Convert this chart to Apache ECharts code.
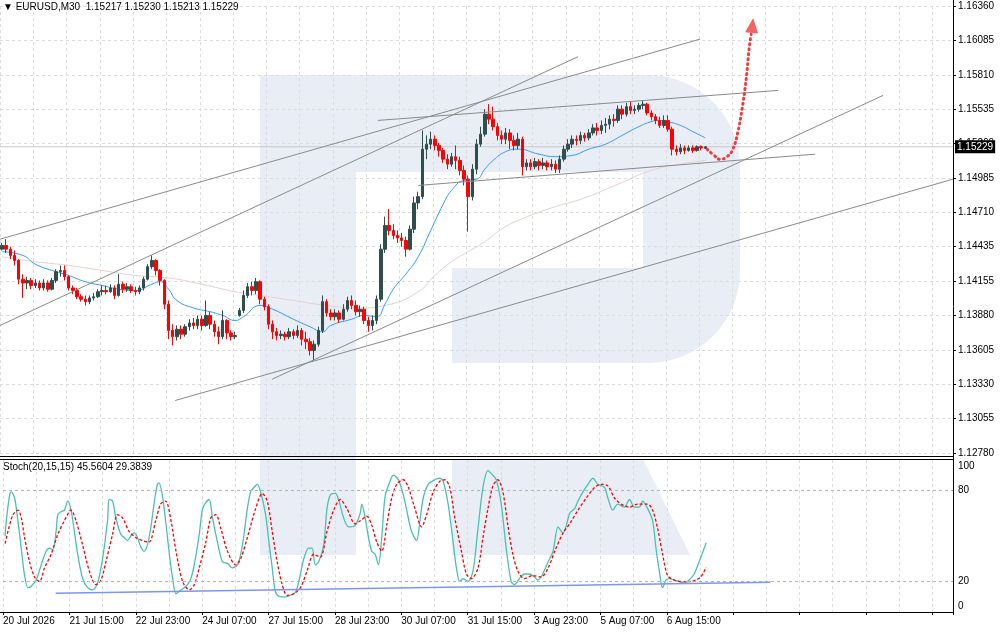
<!DOCTYPE html>
<html><head><meta charset="utf-8">
<script src="https://cdn.jsdelivr.net/npm/echarts@6/dist/echarts.min.js"></script>
<style>html,body{margin:0;padding:0;background:#fff}#c{width:1000px;height:632px}</style>
</head><body><div id="c"></div><script>
const headerText = '\u25BC EURUSD,M30  1.15217 1.15230 1.15213 1.15229';
const stochTitle = 'Stoch(20,15,15) 45.5604 29.3839';
const priceLabels = ['1.12780','1.13055','1.13330','1.13605','1.13880','1.14155','1.14435','1.14710','1.14985','1.15260','1.15535','1.15810','1.16085','1.16360'];
const timeLabels = ['20 Jul 2026','21 Jul 15:00','22 Jul 23:00','24 Jul 07:00','27 Jul 15:00','28 Jul 23:00','30 Jul 07:00','31 Jul 15:00','3 Aug 23:00','5 Aug 07:00','6 Aug 15:00'];
const stochLevels = [20, 80];
const lastPrice = 1.15229;
const totalSlots = 229;

// [open, close, low, high]
const candles = [
[1.1441,1.1444,1.1440,1.1446],[1.1444,1.1441,1.1438,1.1449],[1.1441,1.1436,1.1433,1.1443],[1.1436,1.1432,1.1428,1.1440],
[1.1432,1.1417,1.1413,1.1433],[1.1417,1.1414,1.1402,1.1421],[1.1414,1.1416,1.1409,1.1419],[1.1416,1.1412,1.1409,1.1418],
[1.1412,1.1414,1.1410,1.1417],[1.1414,1.1410,1.1408,1.1416],[1.1410,1.1414,1.1408,1.1417],[1.1414,1.1409,1.1407,1.1416],
[1.1409,1.1416,1.1408,1.1418],[1.1416,1.1423,1.1414,1.1425],[1.1423,1.1424,1.1419,1.1428],[1.1424,1.1419,1.1416,1.1428],
[1.1419,1.1410,1.1408,1.1420],[1.1410,1.1408,1.1405,1.1412],[1.1408,1.1403,1.1401,1.1410],[1.1403,1.1401,1.1399,1.1405],
[1.1401,1.1399,1.1396,1.1404],[1.1399,1.1402,1.1397,1.1404],[1.1402,1.1403,1.1400,1.1406],[1.1403,1.1407,1.1402,1.1409],
[1.1407,1.1408,1.1404,1.1412],[1.1408,1.1407,1.1405,1.1412],[1.1407,1.1410,1.1406,1.1413],[1.1410,1.1404,1.1401,1.1412],
[1.1404,1.1413,1.1403,1.1421],[1.1413,1.1409,1.1406,1.1415],[1.1409,1.1411,1.1407,1.1414],[1.1411,1.1408,1.1406,1.1413],
[1.1408,1.1407,1.1404,1.1411],[1.1407,1.1410,1.1405,1.1412],[1.1410,1.1417,1.1408,1.1419],[1.1417,1.1427,1.1416,1.1429],
[1.1427,1.1432,1.1425,1.1436],[1.1432,1.1424,1.1420,1.1433],[1.1424,1.1416,1.1412,1.1425],[1.1416,1.1397,1.1393,1.1417],
[1.1397,1.1376,1.1369,1.1400],[1.1376,1.1371,1.1364,1.1381],[1.1371,1.1377,1.1368,1.1380],[1.1377,1.1373,1.1369,1.1380],
[1.1373,1.1379,1.1371,1.1381],[1.1379,1.1382,1.1376,1.1385],[1.1382,1.1380,1.1377,1.1386],[1.1380,1.1385,1.1377,1.1388],
[1.1385,1.1380,1.1376,1.1388],[1.1380,1.1388,1.1379,1.1400],[1.1388,1.1381,1.1377,1.1391],[1.1381,1.1375,1.1371,1.1384],
[1.1375,1.1371,1.1365,1.1379],[1.1371,1.1384,1.1369,1.1392],[1.1384,1.1374,1.1369,1.1385],[1.1374,1.1371,1.1368,1.1376],
[1.1371,1.1372,1.1369,1.1375],[1.1388,1.1392,1.1387,1.1394],[1.1392,1.1404,1.1390,1.1408],[1.1404,1.1411,1.1402,1.1414],
[1.1411,1.1408,1.1404,1.1415],[1.1408,1.1415,1.1405,1.1418],[1.1415,1.1401,1.1397,1.1416],[1.1401,1.1395,1.1392,1.1403],
[1.1395,1.1381,1.1377,1.1397],[1.1381,1.1375,1.1369,1.1384],[1.1375,1.1372,1.1368,1.1378],[1.1372,1.1373,1.1369,1.1376],
[1.1373,1.1371,1.1368,1.1375],[1.1371,1.1375,1.1369,1.1378],[1.1375,1.1372,1.1369,1.1377],[1.1372,1.1376,1.1370,1.1380],
[1.1376,1.1369,1.1364,1.1378],[1.1369,1.1367,1.1361,1.1375],[1.1367,1.1360,1.1356,1.1370],[1.1360,1.1365,1.1352,1.1368],
[1.1365,1.1376,1.1363,1.1379],[1.1376,1.1399,1.1374,1.1404],[1.1399,1.1390,1.1387,1.1401],[1.1390,1.1387,1.1384,1.1393],
[1.1387,1.1390,1.1384,1.1393],[1.1390,1.1385,1.1382,1.1392],[1.1385,1.1393,1.1384,1.1397],[1.1393,1.1400,1.1391,1.1403],
[1.1400,1.1396,1.1393,1.1404],[1.1396,1.1391,1.1388,1.1400],[1.1391,1.1393,1.1387,1.1396],[1.1393,1.1384,1.1381,1.1395],
[1.1384,1.1380,1.1375,1.1387],[1.1380,1.1384,1.1376,1.1388],[1.1384,1.1401,1.1381,1.1404],[1.1401,1.1441,1.1399,1.1445],
[1.1441,1.1460,1.1438,1.1467],[1.1460,1.1456,1.1452,1.1473],[1.1456,1.1452,1.1449,1.1461],[1.1452,1.1450,1.1446,1.1456],
[1.1450,1.1448,1.1443,1.1454],[1.1448,1.1441,1.1435,1.1451],[1.1441,1.1457,1.1440,1.1460],[1.1457,1.1478,1.1454,1.1483],
[1.1478,1.1483,1.1473,1.1487],[1.1483,1.1521,1.1481,1.1536],[1.1521,1.1525,1.1513,1.1532],[1.1525,1.1529,1.1521,1.1535],
[1.1529,1.1524,1.1520,1.1532],[1.1524,1.1520,1.1515,1.1526],[1.1520,1.1513,1.1510,1.1522],[1.1513,1.1509,1.1505,1.1517],
[1.1509,1.1515,1.1507,1.1518],[1.1515,1.1512,1.1505,1.1524],[1.1512,1.1504,1.1500,1.1515],[1.1504,1.1497,1.1492,1.1508],
[1.1497,1.1483,1.1455,1.1500],[1.1483,1.1505,1.1480,1.1509],[1.1505,1.1525,1.1501,1.1529],[1.1525,1.1533,1.1523,1.1539],
[1.1533,1.1549,1.1531,1.1553],[1.1549,1.1545,1.1541,1.1557],[1.1545,1.1539,1.1536,1.1555],[1.1539,1.1532,1.1528,1.1542],
[1.1532,1.1529,1.1525,1.1536],[1.1529,1.1534,1.1525,1.1538],[1.1534,1.1528,1.1521,1.1537],[1.1528,1.1524,1.1520,1.1532],
[1.1524,1.1529,1.1521,1.1534],[1.1529,1.1507,1.1500,1.1531],[1.1507,1.1510,1.1504,1.1513],[1.1510,1.1507,1.1504,1.1513],
[1.1507,1.1511,1.1505,1.1514],[1.1511,1.1508,1.1504,1.1513],[1.1508,1.1510,1.1505,1.1514],[1.1510,1.1507,1.1504,1.1512],
[1.1507,1.1509,1.1504,1.1513],[1.1509,1.1505,1.1502,1.1512],[1.1505,1.1513,1.1502,1.1516],[1.1513,1.1521,1.1511,1.1524],
[1.1521,1.1525,1.1519,1.1529],[1.1525,1.1529,1.1522,1.1532],[1.1529,1.1528,1.1524,1.1532],[1.1528,1.1532,1.1525,1.1535],
[1.1532,1.1530,1.1527,1.1534],[1.1530,1.1534,1.1528,1.1537],[1.1534,1.1538,1.1532,1.1541],[1.1538,1.1536,1.1532,1.1542],
[1.1536,1.1540,1.1533,1.1544],[1.1540,1.1541,1.1534,1.1546],[1.1541,1.1545,1.1537,1.1548],[1.1545,1.1544,1.1539,1.1549],
[1.1544,1.1553,1.1542,1.1556],[1.1553,1.1549,1.1545,1.1556],[1.1549,1.1555,1.1547,1.1558],[1.1555,1.1552,1.1549,1.1559],
[1.1552,1.1553,1.1549,1.1556],[1.1553,1.1556,1.1551,1.1558],[1.1556,1.1557,1.1553,1.1560],[1.1557,1.1550,1.1548,1.1558],
[1.1550,1.1547,1.1544,1.1552],[1.1547,1.1544,1.1541,1.1549],[1.1544,1.1540,1.1538,1.1547],[1.1540,1.1544,1.1538,1.1548],
[1.1544,1.1537,1.1535,1.1548],[1.1537,1.1521,1.1516,1.1539],[1.1521,1.1519,1.1516,1.1524],[1.1519,1.1522,1.1517,1.1525],
[1.1522,1.1520,1.1517,1.1524],[1.1520,1.1522,1.1519,1.1524],[1.1522,1.1520,1.1518,1.1524],[1.1520,1.1523,1.1519,1.1524],
[1.1523,1.1522,1.1520,1.1524],[1.15217,1.15229,1.15213,1.15230]
];

// moving averages: [bar index, price]
const maFast = [[0,1.1439],[5,1.1436],[8,1.1429],[12,1.1424],[16,1.1420],[20,1.1415],[24,1.1412],[28,1.1409],[32,1.1408],[36,1.1413],[38,1.1415],[40,1.1409],[42,1.1400],[46,1.1394],[50,1.1391],[53,1.1388],[56,1.1384],[58,1.1387],[62,1.1396],[65,1.1393],[70,1.1385],[74,1.1379],[77,1.1375],[79,1.1380],[84,1.1385],[87,1.1388],[90,1.1387],[92,1.1397],[94,1.1409],[97,1.1421],[100,1.1435],[103,1.1456],[106,1.1477],[108,1.1488],[111,1.1496],[114,1.1497],[116,1.1505],[118,1.1512],[121,1.1519],[124,1.1521],[129,1.1517],[133,1.1515],[137,1.1516],[141,1.1521],[145,1.1525],[149,1.1532],[153,1.1539],[156,1.1543],[158,1.1544],[160,1.1543],[163,1.1540],[166,1.1535],[169,1.1530]];
const maSlow = [[0,1.1435],[8,1.1431],[16,1.1428],[24,1.1424],[32,1.1420],[40,1.1418],[48,1.1413],[56,1.1407],[62,1.1404],[70,1.1400],[78,1.1396],[86,1.1394],[92,1.1396],[100,1.1407],[104,1.1420],[108,1.1431],[112,1.1439],[116,1.1447],[120,1.1457],[124,1.1464],[132,1.1474],[140,1.1482],[148,1.1493],[156,1.1504],[163,1.1509],[169,1.1512]];

// stochastic: [bar index, value]
const stochMain = [[0,50],[0.3,60],[1.1,77],[1.5,79],[2.3,75],[3.1,60],[3.9,42],[4.7,24],[5.5,16],[6.3,17],[7.5,21],[8.7,31],[9.9,40],[10.7,42],[11.5,41],[12.3,53],[12.7,64],[13.5,66],[14.3,67],[15.1,73],[15.9,67],[16.7,53],[17.5,38],[18.7,22],[19.9,16],[21.1,14.5],[22.3,19],[23.5,35],[24.7,60],[25.1,74],[25.9,73],[26.7,62],[27.9,51],[28.7,49],[29.5,47],[30.3,50],[31.1,52],[31.9,49],[32.7,43],[33.5,40],[34.3,44],[35.1,55],[35.9,71],[36.7,84],[37.1,85],[37.9,77],[38.7,60],[39.6,38],[40.4,22],[41.2,12],[42.4,14.5],[43.2,16],[44,18],[44.8,22],[45.6,31],[46.8,51],[47.6,68],[48.4,72],[49.2,74],[50,62],[51.2,46],[52.4,33],[53.6,32],[54.8,29],[56,31],[56.8,38],[57.6,51],[58.4,68],[59.2,79],[60,82],[60.8,84],[61.6,79],[62.8,64],[63.6,46],[64.4,29],[65.2,13],[66.4,10],[67.6,10],[68.8,11],[70,13],[70.8,20],[72,35],[73.2,42],[74,42],[74.8,31],[75.6,33],[76.8,44],[77.6,68],[78.4,77],[79.6,78],[80.4,74],[81.6,62],[82.8,56],[84.4,57],[85.6,65],[86,71],[86.8,62],[87.6,49],[88.4,40],[89.2,38],[90,31],[90.8,49],[91.6,76],[92.8,86],[93.6,90],[94.8,87],[96,77],[97.2,62],[98,53],[99.2,47],[100,60],[100.8,75],[102,84],[103.6,87],[104.8,88],[105.6,86],[106.8,71],[108,46],[108.8,29],[109.6,20],[110.4,22],[111.6,20],[112.8,27],[114,55],[115.2,82],[116.4,93],[117.2,91],[118.4,87],[119.6,71],[120.8,42],[122,20],[122.8,18],[124,22],[125.2,25],[126.4,25],[127.6,23],[128.4,21],[129.6,25],[130.9,33],[132.1,40],[133.3,56],[134.5,52],[135.3,57],[136.1,65],[137.3,68],[138.1,73],[139.3,79],[140.5,84],[141.7,88],[142.9,84],[144.5,82],[145.3,75],[146.5,67],[147.7,71],[149.3,69],[150.5,74],[151.7,69],[152.9,69],[153.7,73],[154.9,68],[156.1,60],[156.9,42],[157.7,27],[158.5,16],[159.3,21],[160.1,22],[161.3,21],[162.5,20],[163.7,19],[164.9,21],[166.1,25],[167.3,33],[169,45.5604]];
const stochSignal = [[0,45],[0.7,53],[1.9,64],[3.1,67],[3.9,62],[4.7,49],[5.9,33],[7.1,23],[8.3,20],[9.5,29],[11.1,38],[12.7,51],[14.3,60],[15.9,67],[17.1,60],[18.7,44],[20.3,27],[21.9,18],[23.1,21],[24.3,33],[25.9,51],[27.1,64],[28.3,62],[29.9,53],[31.5,49],[33.1,47],[34.7,46],[36.3,60],[37.5,71],[38.7,73],[40,60],[41.2,40],[42.8,20],[44.4,14.5],[45.6,18],[46.8,29],[48.4,46],[49.6,62],[50.8,64],[52,55],[53.6,40],[55.6,31],[56.8,35],[58.4,49],[60.4,68],[62,78],[63.2,73],[64.4,53],[65.6,33],[66.8,18],[68,11],[69.6,12],[71.2,16],[72.8,27],[74.4,38],[76,36],[77.6,53],[79.2,67],[80.8,74],[82.4,68],[84.4,58],[85.6,60],[87.2,63],[88.4,57],[89.6,46],[90.8,40],[92,57],[93.2,75],[94.4,84],[96,87],[97.2,82],[98.8,68],[100.4,56],[101.6,64],[103.2,79],[104.8,86],[106,87],[107.2,82],[108.4,62],[110,40],[111.2,25],[112.4,22],[114,29],[115.2,49],[116.4,68],[117.6,83],[118.8,87],[120,79],[121.2,57],[122.4,38],[123.6,27],[125.2,22],[127.2,24],[129.2,23],[130.9,29],[132.5,40],[134.5,52],[136.1,58],[138.1,67],[140.1,75],[142.1,82],[143.7,84],[145.3,83],[146.9,75],[148.5,71],[150.5,69],[152.5,71],[154.9,71],[156.1,67],[157.3,55],[158.5,38],[159.7,24],[161.3,21],[163.3,20],[164.9,20],[166.5,21],[167.7,23],[169,29.3839]];

// drawn trend lines: [bar index, price]
const trendA = [[-0.5,1.1380],[138.4,1.1595]];
const trendB = [[-0.5,1.1449],[167.7,1.1609]];
const trendC = [[90.3,1.1544],[186.5,1.1568]];
const trendD = [[100,1.1492],[195.4,1.1517]];
const trendE = [[64.9,1.1337],[211.7,1.1564]];
const trendF = [[41.6,1.1320],[228.5,1.1497]];
const stochTrend = [[12.2,12.3],[184.5,19.6]];
const bidLine = [[-0.5,lastPrice],[228.5,lastPrice]];
const forecastPath = [[169.4,1.1521],[171.1,1.1516],[172.5,1.1513],[174.2,1.1515],[175.6,1.1521],[176.8,1.1535],[177.8,1.1553],[178.8,1.1577],[179.5,1.1601],[180,1.1613]];
const forecastTip = [[180.3,1.1620]];

const FONT = 'Liberation Sans';
const slots = Array.from({length: totalSlots}, (_, i) => String(i));
const gridLine = {show: true, lineStyle: {color: '#dcdcdc', type: [3, 3], width: 1}};
const WM = '#e9eef6';

function trendSeries(data, color, width) {
  return {type: 'line', xAxisIndex: 2, yAxisIndex: 0, data: data, symbol: 'none', silent: true, z: 4,
    lineStyle: {color: color || '#8a8a8a', width: width || 1}};
}

const chart = echarts.init(document.getElementById('c'), null, {renderer: 'canvas'});
chart.setOption({
  animation: false,
  backgroundColor: '#ffffff',
  textStyle: {fontFamily: FONT},
  title: [
    {text: headerText, left: 3, top: 2, padding: 0, textStyle: {fontSize: 10, fontWeight: 'normal', color: '#000', fontFamily: FONT}},
    {text: stochTitle, left: 3, top: 462, padding: 0, textStyle: {fontSize: 10, fontWeight: 'normal', color: '#000', fontFamily: FONT}}
  ],
  grid: [
    {left: 0, right: 47, top: 6, height: 447},
    {left: 0, right: 47, top: 460, height: 152}
  ],
  xAxis: [
    {type: 'category', gridIndex: 0, data: slots, boundaryGap: true, position: 'bottom', show: false, axisLine: {onZero: false}},
    {type: 'value', gridIndex: 1, min: -0.5, max: 228.5, interval: 8, position: 'top',
      axisLine: {show: false, onZero: false}, axisTick: {show: false}, axisLabel: {show: false}, splitLine: gridLine},
    {type: 'value', gridIndex: 0, min: -0.5, max: 228.5, interval: 8, position: 'top',
      axisLine: {show: false, onZero: false}, axisTick: {show: false}, axisLabel: {show: false}, splitLine: gridLine},
    {type: 'value', gridIndex: 1, min: -0.5, max: 228.5, interval: 16, position: 'bottom',
      axisLine: {show: false, onZero: false}, axisTick: {show: true, length: 3, lineStyle: {color: '#000'}},
      splitLine: {show: false},
      axisLabel: {show: true, align: 'left', margin: 4, fontSize: 10, color: '#000', fontFamily: FONT,
        formatter: function (v) {
          const k = (v + 0.5) / 16; const r = Math.round(k);
          return Math.abs(k - r) < 1e-6 && r < timeLabels.length ? timeLabels[r] : '';
        }}}
  ],
  yAxis: [
    {type: 'value', gridIndex: 0, position: 'right', min: 1.1278, max: 1.16355, interval: 0.00275,
      axisLine: {show: false, onZero: false}, axisTick: {show: true, length: 3, lineStyle: {color: '#000'}},
      splitLine: gridLine,
      axisLabel: {margin: 5, fontSize: 10, color: '#000', fontFamily: FONT,
        formatter: function (v) { const i = Math.round((v - 1.1278) / 0.00275); return priceLabels[i] || ''; }}},
    {type: 'value', gridIndex: 1, position: 'right', min: 0, max: 100, interval: 20,
      axisLine: {show: false, onZero: false}, axisTick: {show: false}, splitLine: {show: false},
      axisLabel: {margin: 5, fontSize: 10, color: '#000', fontFamily: FONT,
        formatter: function (v) {
          if (v === 100) return '{t|100}';
          if (v === 0) return '{b|0}';
          return stochLevels.indexOf(v) >= 0 ? String(v) : '';
        },
        rich: {t: {padding: [12, 0, 0, 0], fontSize: 10, color: '#000'}, b: {padding: [0, 0, 12, 0], fontSize: 10, color: '#000'}}}}
  ],
  graphic: {elements: [
    {type: 'rect', z: -10, silent: true, shape: {x: 260, y: 75, width: 96, height: 480}, style: {fill: WM}},
    {type: 'rect', z: -10, silent: true, shape: {x: 356, y: 75, width: 384, height: 288, r: [0, 92, 92, 0]}, style: {fill: WM}},
    {type: 'rect', z: -9, silent: true, shape: {x: 356, y: 172, width: 287, height: 96}, style: {fill: '#ffffff'}},
    {type: 'rect', z: -9, silent: true, shape: {x: 356, y: 268, width: 96, height: 95}, style: {fill: '#ffffff'}},
    {type: 'polygon', z: -10, silent: true, shape: {points: [[452, 459], [643, 459], [690, 555], [452, 555]]}, style: {fill: WM}},
    {type: 'line', z: 100, silent: true, shape: {x1: 953.5, y1: 0, x2: 953.5, y2: 613}, style: {stroke: '#000', lineWidth: 1}},
    {type: 'line', z: 100, silent: true, shape: {x1: 0, y1: 456.5, x2: 953.5, y2: 456.5}, style: {stroke: '#000', lineWidth: 1}},
    {type: 'line', z: 100, silent: true, shape: {x1: 0, y1: 459.5, x2: 953.5, y2: 459.5}, style: {stroke: '#000', lineWidth: 1}},
    {type: 'line', z: 100, silent: true, shape: {x1: 0, y1: 612.5, x2: 953.5, y2: 612.5}, style: {stroke: '#000', lineWidth: 1}}
  ]},
  series: [
    {type: 'line', xAxisIndex: 2, yAxisIndex: 0, data: bidLine, symbol: 'none', silent: true, z: 1,
      lineStyle: {color: '#c8c8c8', width: 1},
      endLabel: {show: true, distance: 2, formatter: lastPrice.toFixed(5), backgroundColor: '#000',
        color: '#fff', padding: [2, 2, 1, 2], fontSize: 10, fontFamily: FONT}},
    {type: 'line', xAxisIndex: 2, yAxisIndex: 0, data: maSlow, smooth: true, symbol: 'none', silent: true, z: 2,
      lineStyle: {color: '#e6d0d0', width: 1}},
    {type: 'line', xAxisIndex: 2, yAxisIndex: 0, data: maFast, smooth: true, symbol: 'none', silent: true, z: 2,
      lineStyle: {color: '#3399ff', width: 1}},
    {type: 'candlestick', xAxisIndex: 0, yAxisIndex: 0, data: candles, barWidth: 3, silent: true, z: 3,
      itemStyle: {color: '#2f4f4f', color0: '#ff0000', borderColor: '#2f4f4f', borderColor0: '#ff0000', borderWidth: 1}},
    trendSeries(trendA), trendSeries(trendB), trendSeries(trendC), trendSeries(trendD), trendSeries(trendE), trendSeries(trendF),
    {type: 'line', xAxisIndex: 2, yAxisIndex: 0, data: forecastPath, smooth: true, symbol: 'none', silent: true, z: 5,
      lineStyle: {color: '#f03c3c', width: 3, type: [1, 4], cap: 'round'}},
    {type: 'scatter', xAxisIndex: 2, yAxisIndex: 0, data: forecastTip, symbol: 'triangle', symbolSize: [13, 15], symbolRotate: -6,
      silent: true, z: 5, itemStyle: {color: '#f03c3c'}},
    {type: 'line', xAxisIndex: 1, yAxisIndex: 1, data: stochMain, smooth: 0.3, symbol: 'none', silent: true, z: 3,
      lineStyle: {color: '#4cbfb2', width: 1.3},
      markLine: {silent: true, symbol: ['none', 'none'], label: {show: false},
        data: stochLevels.map(v => ({yAxis: v})), lineStyle: {color: '#b4b4b4', type: [3, 3], width: 1}}},
    {type: 'line', xAxisIndex: 1, yAxisIndex: 1, data: stochSignal, smooth: 0.3, symbol: 'none', silent: true, z: 4,
      lineStyle: {color: '#ff0000', width: 1.3, type: [3, 2]}},
    {type: 'line', xAxisIndex: 1, yAxisIndex: 1, data: stochTrend, symbol: 'none', silent: true, z: 4,
      lineStyle: {color: '#7b96f0', width: 1.5}}
  ]
});
</script></body></html>
